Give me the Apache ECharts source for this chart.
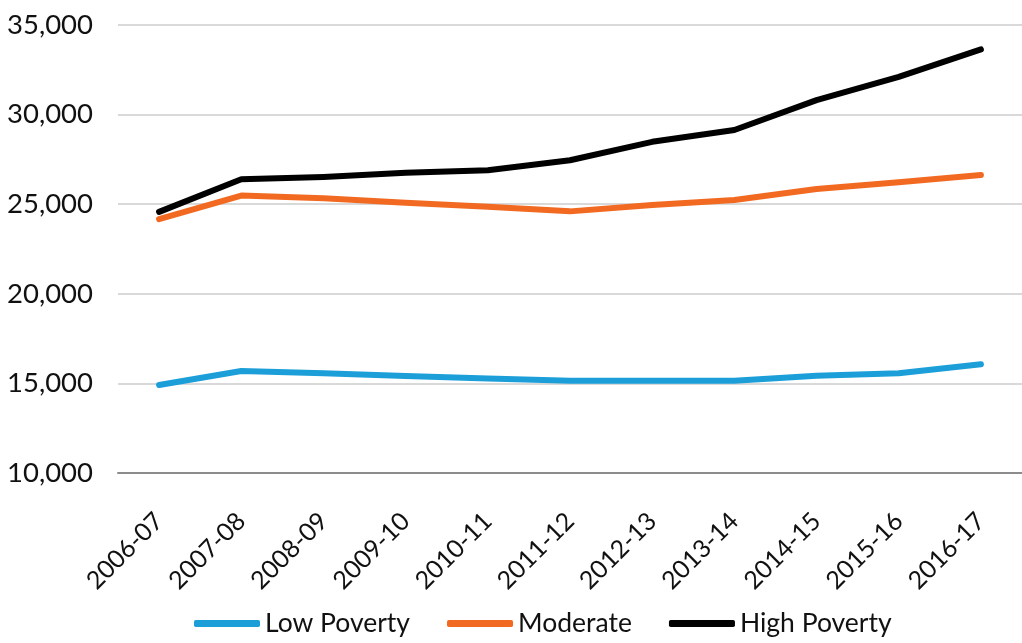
<!DOCTYPE html>
<html>
<head>
<meta charset="utf-8">
<script src="https://cdn.jsdelivr.net/npm/echarts@6/dist/echarts.min.js"></script>
<style>
  html, body { margin: 0; padding: 0; background: #fff; }
  #chart { width: 1022px; height: 643px; }
</style>
</head>
<body>
<div id="chart"></div>
<script>
// School years on the category axis
const years = ['2006-07', '2007-08', '2008-09', '2009-10', '2010-11', '2011-12',
               '2012-13', '2013-14', '2014-15', '2015-16', '2016-17'];

// Values per poverty group
const lowPoverty  = [14910, 15690, 15560, 15410, 15280, 15150, 15150, 15150, 15430, 15570, 16070];
const moderate    = [24170, 25480, 25330, 25080, 24860, 24600, 24960, 25230, 25850, 26220, 26630];
const highPoverty = [24570, 26390, 26520, 26750, 26900, 27450, 28480, 29140, 30810, 32100, 33640];

// Value axis ticks
const yMin = 10000, yMax = 35000, yStep = 5000;

const FONT = 'Lato, "Open Sans", sans-serif';

const chart = echarts.init(document.getElementById('chart'));

function lineSeries(name, data, color) {
  return {
    name: name,
    type: 'line',
    data: data,
    symbol: 'none',
    smooth: false,
    lineStyle: { color: color, width: 6, cap: 'round', join: 'round' },
    itemStyle: { color: color }
  };
}

chart.setOption({
  animation: false,
  grid: { left: 118, right: -13, top: 25, bottom: 170 },
  xAxis: {
    type: 'category',
    data: years,
    boundaryGap: true,
    axisLine: { lineStyle: { color: '#8c8c8c', width: 2 } },
    axisTick: { show: false },
    axisLabel: {
      rotate: 45,
      interval: 0,
      margin: 44,
      color: '#111',
      fontFamily: FONT,
      fontSize: 25
    }
  },
  yAxis: {
    type: 'value',
    min: yMin,
    max: yMax,
    interval: yStep,
    axisLine: { show: false },
    axisTick: { show: false },
    splitLine: { lineStyle: { color: '#d9d9d9', width: 2 } },
    axisLabel: {
      margin: 25,
      color: '#111',
      fontFamily: FONT,
      fontSize: 27.5,
      formatter: v => v.toLocaleString('en-US')
    }
  },
  legend: {
    bottom: 1,
    left: 189,
    itemWidth: 66,
    itemHeight: 7,
    itemGap: 37,
    icon: 'roundRect',
    textStyle: {
      color: '#111',
      fontFamily: FONT,
      fontSize: 26.5
    },
    data: ['Low Poverty', 'Moderate', 'High Poverty']
  },
  series: [
    lineSeries('Low Poverty', lowPoverty, '#1c9fd9'),
    lineSeries('Moderate', moderate, '#f26a22'),
    lineSeries('High Poverty', highPoverty, '#000000')
  ]
});
</script>
</body>
</html>
